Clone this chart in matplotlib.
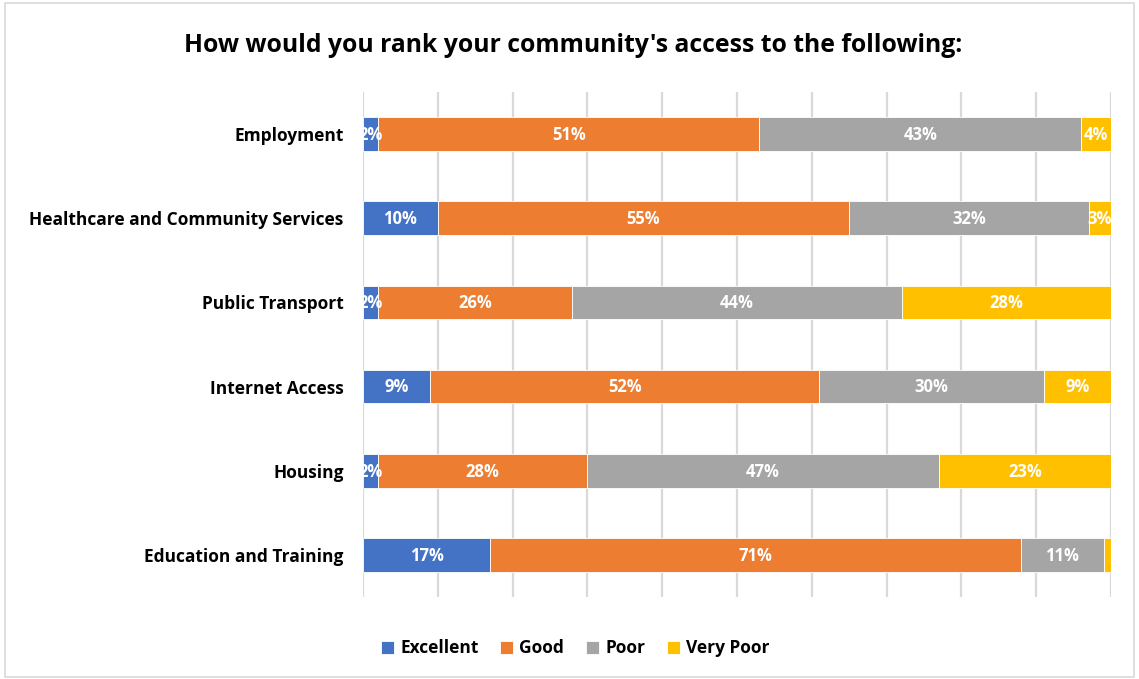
import matplotlib
matplotlib.use("Agg")
import matplotlib.pyplot as plt
from matplotlib.patches import Rectangle
import numpy as np

plt.rcParams['font.family'] = ['Open Sans', 'DejaVu Sans']

categories = ["Employment", "Healthcare and Community Services", "Public Transport",
              "Internet Access", "Housing", "Education and Training"]
series = ["Excellent", "Good", "Poor", "Very Poor"]
excellent = [2, 10, 2, 9, 2, 17]
good = [51, 55, 26, 52, 28, 71]
poor = [43, 32, 44, 30, 47, 11]
very_poor = [4, 3, 28, 9, 23, 1]
colors = ["#4472C4", "#ED7D31", "#A5A5A5", "#FFC000"]

values = np.array([excellent, good, poor, very_poor], dtype=float)
shares = values / values.sum(axis=0) * 100

fig = plt.figure(figsize=(11.39, 6.79), dpi=100)
fig.patches.append(Rectangle((0.0045, 0.003), 0.991, 0.9925, transform=fig.transFigure,
                             fill=False, edgecolor="#d9d9d9", linewidth=1.2))

ax = fig.add_axes([0.3187, 0.1208, 0.6567, 0.7437])
y = np.arange(len(categories))
left = np.zeros(len(categories))
for i, name in enumerate(series):
    bars = ax.barh(y, shares[i], left=left, height=0.4, color=colors[i],
                   edgecolor="white", linewidth=0.6, label=name, zorder=3)
    for j, b in enumerate(bars):
        if values[i, j] >= 2:
            ax.text(left[j] + shares[i, j] / 2, y[j] + 0.01, f"{int(values[i, j])}%",
                    ha="center", va="center", color="white", fontsize=12,
                    fontweight="bold", zorder=4)
    left += shares[i]

ax.set_xlim(0, 100)
ax.set_ylim(len(categories) - 0.5, -0.5)
ax.set_xticks(np.arange(0, 101, 10))
ax.tick_params(axis="x", length=0, labelbottom=False)
ax.tick_params(axis="y", length=0, pad=14)
ax.set_yticks(y)
ax.set_yticklabels(categories, fontsize=12.5, fontweight="bold")
ax.grid(axis="x", color="#d9d9d9", linewidth=1.6, zorder=0)
for s in ax.spines.values():
    s.set_visible(False)

fig.text(0.503, 0.933, "How would you rank your community's access to the following:",
         ha="center", va="center", fontsize=17.8, fontweight="bold")

handles, labels = ax.get_legend_handles_labels()
fig.legend(handles, labels, loc="center", bbox_to_anchor=(0.505, 0.045), ncol=4,
           frameon=False, prop={"size": 12.5, "weight": "bold"},
           handlelength=0.75, handleheight=0.75, handletextpad=0.35, columnspacing=1.25)

fig.savefig("out.png", dpi=100)
